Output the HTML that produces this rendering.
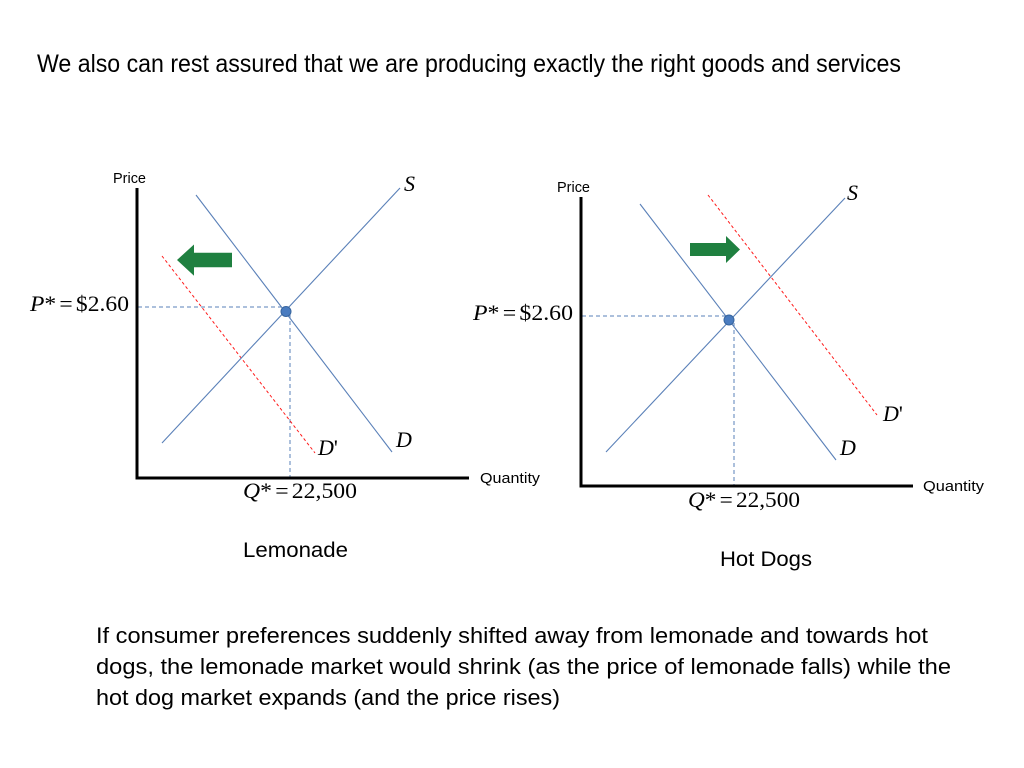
<!DOCTYPE html>
<html>
<head>
<meta charset="utf-8">
<style>
  html, body { margin: 0; padding: 0; background: #ffffff; }
  svg { display: block; }
  .sans { font-family: "Liberation Sans", sans-serif; fill: #000; }
  .serif { font-family: "Liberation Serif", serif; fill: #000; }
</style>
</head>
<body>
<svg width="1024" height="768" viewBox="0 0 1024 768" xmlns="http://www.w3.org/2000/svg">
  <rect x="0" y="0" width="1024" height="768" fill="#ffffff"/>

  <!-- Title -->
  <text class="sans" x="37" y="72" font-size="25" textLength="864" lengthAdjust="spacingAndGlyphs">We also can rest assured that we are producing exactly the right goods and services</text>

  <!-- ============ LEFT CHART (Lemonade) ============ -->
  <!-- dashed guides -->
  <line x1="138" y1="307" x2="284" y2="307" stroke="#5a80b8" stroke-width="1" stroke-dasharray="4,3"/>
  <line x1="290" y1="314" x2="290" y2="477" stroke="#5a80b8" stroke-width="1" stroke-dasharray="4,3"/>
  <!-- D' red dashed -->
  <line x1="162" y1="256" x2="315" y2="453" stroke="#ff1a1a" stroke-width="1" stroke-dasharray="3,2.5"/>
  <!-- S and D -->
  <line x1="162" y1="443" x2="400" y2="188" stroke="#5a80b8" stroke-width="1.1"/>
  <line x1="196" y1="195" x2="392" y2="452" stroke="#5a80b8" stroke-width="1.1"/>
  <!-- equilibrium dot -->
  <circle cx="286" cy="311.5" r="5" fill="#4a7cc0" stroke="#37659e" stroke-width="1"/>
  <!-- axes -->
  <line x1="137" y1="188" x2="137" y2="479.5" stroke="#000" stroke-width="3"/>
  <line x1="135.5" y1="478" x2="469" y2="478" stroke="#000" stroke-width="3"/>
  <!-- green arrow left -->
  <polygon points="177,260 194,244.5 194,252.7 232,252.7 232,267.3 194,267.3 194,275.7" fill="#1f8040"/>
  <!-- labels -->
  <text class="sans" x="113" y="183" font-size="15" textLength="33" lengthAdjust="spacingAndGlyphs">Price</text>
  <text class="sans" x="480" y="483" font-size="15" textLength="60" lengthAdjust="spacingAndGlyphs">Quantity</text>
  <text class="serif" x="30" y="311" font-size="22" textLength="99" lengthAdjust="spacingAndGlyphs"><tspan font-style="italic">P</tspan>*<tspan dx="3">=</tspan><tspan dx="3">$2.60</tspan></text>
  <text class="serif" x="243" y="498" font-size="22" textLength="114" lengthAdjust="spacingAndGlyphs"><tspan font-style="italic">Q</tspan>*<tspan dx="3">=</tspan><tspan dx="3">22,500</tspan></text>
  <text class="serif" x="404" y="191" font-size="22" font-style="italic">S</text>
  <text class="serif" x="396" y="447" font-size="22" font-style="italic">D</text>
  <text class="serif" x="318" y="455" font-size="22"><tspan font-style="italic">D</tspan>'</text>

  <!-- ============ RIGHT CHART (Hot Dogs) ============ -->
  <line x1="582" y1="316" x2="726" y2="316" stroke="#5a80b8" stroke-width="1" stroke-dasharray="4,3"/>
  <line x1="734" y1="323" x2="734" y2="485" stroke="#5a80b8" stroke-width="1" stroke-dasharray="4,3"/>
  <line x1="708" y1="195" x2="877" y2="415" stroke="#ff1a1a" stroke-width="1" stroke-dasharray="3,2.5"/>
  <line x1="606" y1="452" x2="845" y2="198" stroke="#5a80b8" stroke-width="1.1"/>
  <line x1="640" y1="204" x2="836" y2="460" stroke="#5a80b8" stroke-width="1.1"/>
  <circle cx="729" cy="320" r="5" fill="#4a7cc0" stroke="#37659e" stroke-width="1"/>
  <line x1="581" y1="197" x2="581" y2="487.5" stroke="#000" stroke-width="3"/>
  <line x1="579.5" y1="486" x2="913" y2="486" stroke="#000" stroke-width="3"/>
  <!-- green arrow right -->
  <polygon points="740,249.5 726,236 726,243 690,243 690,256 726,256 726,263" fill="#1f8040"/>
  <text class="sans" x="557" y="192" font-size="15" textLength="33" lengthAdjust="spacingAndGlyphs">Price</text>
  <text class="sans" x="923" y="491" font-size="15" textLength="61" lengthAdjust="spacingAndGlyphs">Quantity</text>
  <text class="serif" x="473" y="320" font-size="22" textLength="100" lengthAdjust="spacingAndGlyphs"><tspan font-style="italic">P</tspan>*<tspan dx="3">=</tspan><tspan dx="3">$2.60</tspan></text>
  <text class="serif" x="688" y="507" font-size="22" textLength="112" lengthAdjust="spacingAndGlyphs"><tspan font-style="italic">Q</tspan>*<tspan dx="3">=</tspan><tspan dx="3">22,500</tspan></text>
  <text class="serif" x="847" y="200" font-size="22" font-style="italic">S</text>
  <text class="serif" x="840" y="455" font-size="22" font-style="italic">D</text>
  <text class="serif" x="883" y="421" font-size="22"><tspan font-style="italic">D</tspan>'</text>

  <!-- Chart captions -->
  <text class="sans" x="243" y="557" font-size="21" textLength="105" lengthAdjust="spacingAndGlyphs">Lemonade</text>
  <text class="sans" x="720" y="566" font-size="21" textLength="92" lengthAdjust="spacingAndGlyphs">Hot Dogs</text>

  <!-- Bottom paragraph -->
  <text class="sans" x="96" y="643" font-size="22" textLength="832" lengthAdjust="spacingAndGlyphs">If consumer preferences suddenly shifted away from lemonade and towards hot</text>
  <text class="sans" x="96" y="674" font-size="22" textLength="855" lengthAdjust="spacingAndGlyphs">dogs, the lemonade market would shrink (as the price of lemonade falls) while the</text>
  <text class="sans" x="96" y="705" font-size="22" textLength="464" lengthAdjust="spacingAndGlyphs">hot dog market expands (and the price rises)</text>
</svg>
</body>
</html>
